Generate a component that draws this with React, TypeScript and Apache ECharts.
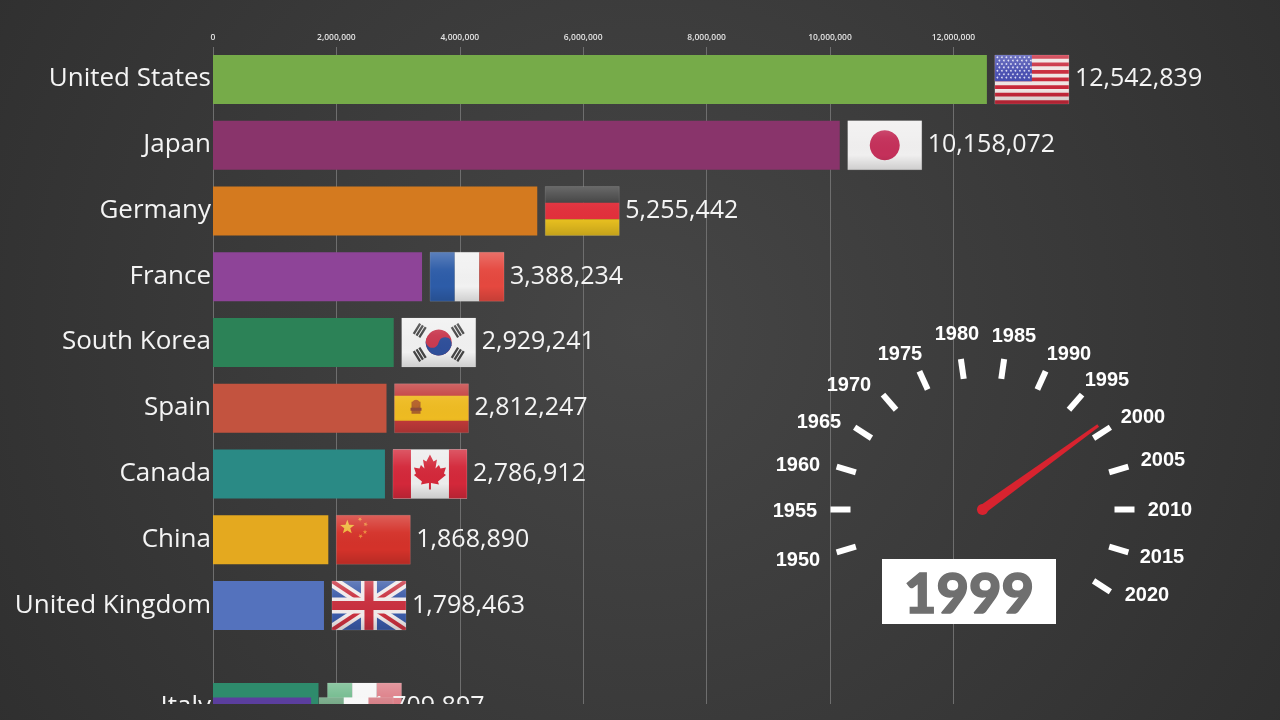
import React, { useEffect, useRef } from "react";
import * as echarts from "echarts";

const countries = ["United States", "Japan", "Germany", "France", "South Korea", "Spain", "Canada", "China", "United Kingdom", "Italy", "Mexico"];
const gdpValues = [12542839, 10158072, 5255442, 3388234, 2929241, 2812247, 2786912, 1868890, 1798463, 1709897, 1590000];
const rowRanks = [0, 1, 2, 3, 4, 5, 6, 7, 8, 9.55, 9.77];
const barColors = ["#76ab49", "#89346b", "#d47a1f", "#8e4498", "#2c8257", "#c3533f", "#2a8a85", "#e4a91f", "#5472bd", "#2e8b6c", "#5b3e9e"];
const gaugeYear = 1999;
const gaugeMinYear = 1950;
const gaugeMaxYear = 2020;

// Layout only: where each year's label sits around the dial, measured from the dial's centre.
const gaugeLabelOffsets: Record<number, number[]> = {
  1950: [-184.5, 49.5],
  1955: [-187.5, 0.5],
  1960: [-184.5, -45.5],
  1965: [-163.5, -88.5],
  1970: [-133.5, -125.5],
  1975: [-82.5, -156.5],
  1980: [-25.5, -176.5],
  1985: [31.5, -174.5],
  1990: [86.5, -156.5],
  1995: [124.5, -130.5],
  2000: [160.5, -93.5],
  2005: [180.5, -50.5],
  2010: [187.5, -0.5],
  2015: [179.5, 46.5],
  2020: [164.5, 84.5],
};

const TEXT_FONT = '"Open Sans", "Noto Sans", sans-serif';
const GAUGE_CX = 982.5;
const GAUGE_CY = 509.5;
const GAUGE_R = 152;
const GAUGE_START = 196.36;
const GAUGE_END = -32.73;
const LABEL_ANCHOR_R = 240;
const LABEL_W = 44.5;
const LABEL_H = 20;

function buildGaugeRich() {
  const rich: Record<string, any> = {};
  Object.keys(gaugeLabelOffsets).forEach((key) => {
    const year = Number(key);
    const [tx, ty] = gaugeLabelOffsets[year];
    const t = (year - gaugeMinYear) / (gaugeMaxYear - gaugeMinYear);
    const angle = ((GAUGE_START + (GAUGE_END - GAUGE_START) * t) * Math.PI) / 180;
    const ux = Math.cos(angle);
    const uy = -Math.sin(angle);
    const ax = ux * LABEL_ANCHOR_R;
    const ay = uy * LABEL_ANCHOR_R;
    let padL = 0;
    let padR = 0;
    let padT = 0;
    let padB = 0;
    if (ux < -0.4) padL = tx - LABEL_W / 2 - ax;
    else if (ux > 0.4) padR = ax - (tx + LABEL_W / 2);
    else if (tx > ax) padL = 2 * (tx - ax);
    else padR = 2 * (ax - tx);
    if (uy < -0.8) padT = 2 * (ty - LABEL_H / 2 - ay);
    else if (ty > ay) padT = 2 * (ty - ay);
    else padB = 2 * (ay - ty);
    rich[`y${year}`] = {
      padding: [padT, padR, padB, padL],
      lineHeight: LABEL_H,
      color: "#ffffff",
      fontSize: 20,
      fontWeight: "bold",
      fontFamily: '"Liberation Sans", Arial, sans-serif',
    };
  });
  return rich;
}

const bgStops = [
  { offset: 0, color: "#464646" },
  { offset: 1, color: "#2e2e2e" },
];
const bgFill = { type: "radial", x: 640, y: 330, r: 800, global: true, colorStops: bgStops };

function star(cx: number, cy: number, r: number, fill: string, rot = 0) {
  const points: number[][] = [];
  for (let i = 0; i < 10; i++) {
    const a = rot - Math.PI / 2 + (i * Math.PI) / 5;
    const q = i % 2 ? r * 0.42 : r;
    points.push([cx + q * Math.cos(a), cy + q * Math.sin(a)]);
  }
  return { type: "polygon", shape: { points }, style: { fill } };
}
const box = (x: number, y: number, w: number, h: number, fill: string) => ({ type: "rect", shape: { x, y, width: w, height: h }, style: { fill } });
const poly = (points: number[][], fill: string) => ({ type: "polygon", shape: { points }, style: { fill } });
const stroke = (a: number[], b: number[], w: number, color: string) => ({
  type: "line",
  shape: { x1: a[0], y1: a[1], x2: b[0], y2: b[1] },
  style: { stroke: color, lineWidth: w },
});

const FW = 74;
const FH = 49;

function usFlag() {
  const els: any[] = [box(0, 0, FW, FH, "#f0e6e4")];
  for (let i = 0; i < 7; i++) els.push(box(0, (i * 2 * FH) / 13, FW, FH / 13, "#c8283a"));
  els.push(box(0, 0, 37, (7 * FH) / 13, "#474db0"));
  for (let r = 0; r < 7; r++)
    for (let c = 0; c < 8; c++)
      els.push({ type: "circle", shape: { cx: 2.5 + c * 4.5 + (r % 2 ? 2 : 0), cy: 2.2 + r * 3.4, r: 0.9 }, style: { fill: "#d8d8f2" } });
  return els;
}
function koreaFlag() {
  const cx = FW / 2;
  const cy = FH / 2;
  const els: any[] = [box(0, 0, FW, FH, "#f0f0f0")];
  els.push({ type: "circle", shape: { cx, cy, r: 13 }, style: { fill: "#c93a50" } });
  els.push({ type: "sector", shape: { cx, cy, r: 13, startAngle: 0.2, endAngle: Math.PI + 0.2 }, style: { fill: "#2f4f9a" } });
  els.push({ type: "circle", shape: { cx: cx - 6.4, cy: cy - 1.2, r: 6.5 }, style: { fill: "#c93a50" } });
  els.push({ type: "circle", shape: { cx: cx + 6.4, cy: cy + 1.2, r: 6.5 }, style: { fill: "#2f4f9a" } });
  const corners = [
    [-19, -12],
    [19, -12],
    [-19, 12],
    [19, 12],
  ];
  corners.forEach(([dx, dy]) => {
    const len = Math.hypot(dx, dy);
    const nx = dx / len;
    const ny = dy / len;
    for (let k = -1; k <= 1; k++) {
      const ox = cx + dx + k * 3.3 * nx;
      const oy = cy + dy + k * 3.3 * ny;
      els.push(stroke([ox + ny * 6, oy - nx * 6], [ox - ny * 6, oy + nx * 6], 2.3, "#454545"));
    }
  });
  return els;
}
function spainFlag() {
  return [
    box(0, 0, FW, FH, "#c23a3a"),
    box(0, 12, FW, 25, "#eebb22"),
    box(17, 18, 9, 12, "#a8612a"),
    { type: "circle", shape: { cx: 21.5, cy: 20, r: 4 }, style: { fill: "#b5622a" } },
    box(16, 24, 11, 3, "#8f4a38"),
  ];
}
function canadaFlag() {
  const cx = FW / 2;
  const leaf = [
    [0, -19], [3.6, -12], [7, -14], [5.5, -5], [9, -8.5], [10.5, -5], [16, -6], [14, 0], [16, 1.5],
    [8, 8], [9, 11], [1, 9.6], [1, 16], [-1, 16], [-1, 9.6], [-9, 11], [-8, 8], [-16, 1.5], [-14, 0],
    [-16, -6], [-10.5, -5], [-9, -8.5], [-5.5, -5], [-7, -14], [-3.6, -12],
  ].map(([x, y]) => [cx + x, 24 + y]);
  return [box(0, 0, FW, FH, "#ececec"), box(0, 0, 18, FH, "#d3283a"), box(56, 0, 18, FH, "#d3283a"), poly(leaf, "#d3283a")];
}
function chinaFlag() {
  return [
    box(0, 0, FW, FH, "#d4322a"),
    star(11, 12, 7.5, "#eeb83a"),
    star(23.7, 4, 2.4, "#eb8a3a", 0.6),
    star(29.3, 9, 2.4, "#eb8a3a", 0.3),
    star(28.7, 16.7, 2.4, "#eb8a3a"),
    star(24.3, 21, 2.4, "#eb8a3a", 0.6),
  ];
}
function diagonal(d: number, e: number, fill: string) {
  return [
    poly([[0, 0], [d, 0], [FW, FH - e], [FW, FH], [FW - d, FH], [0, e]], fill),
    poly([[FW, 0], [FW - d, 0], [0, FH - e], [0, FH], [d, FH], [FW, e]], fill),
  ];
}
function ukFlag() {
  const white = "#f0eaea";
  const red = "#c9303f";
  const cx = FW / 2;
  const cy = FH / 2;
  return [
    box(0, 0, FW, FH, "#3a5aa8"),
    ...diagonal(10, 7, white),
    ...diagonal(3.5, 2.4, red),
    box(cx - 8, 0, 16, FH, white),
    box(0, cy - 8, FW, 16, white),
    box(cx - 4.5, 0, 9, FH, red),
    box(0, cy - 4.5, FW, 9, red),
  ];
}
const tricolour = (a: string, b: string, c: string) => [box(0, 0, FW / 3, FH, a), box(FW / 3, 0, FW / 3, FH, b), box((2 * FW) / 3, 0, FW / 3, FH, c)];

const flagBuilders: Record<string, () => any[]> = {
  "United States": usFlag,
  Japan: () => [box(0, 0, FW, FH, "#f0efef"), { type: "circle", shape: { cx: FW / 2, cy: FH / 2, r: 15 }, style: { fill: "#c4305a" } }],
  Germany: () => [box(0, 0, FW, FH / 3, "#3f3f3f"), box(0, FH / 3, FW, FH / 3, "#e2303c"), box(0, (2 * FH) / 3, FW, FH / 3, "#e5bd1f")],
  France: () => tricolour("#2d5ca8", "#f1f1f1", "#e5483f"),
  "South Korea": koreaFlag,
  Spain: spainFlag,
  Canada: canadaFlag,
  China: chinaFlag,
  "United Kingdom": ukFlag,
  Italy: () => tricolour("#6fb98b", "#f6f6f6", "#dc7c85"),
  Mexico: () => tricolour("#5f9a73", "#f6f6f6", "#cf6a73"),
};

function flagGroup(name: string, x: number, y: number) {
  const gloss = {
    type: "linear",
    x: 0,
    y: 0,
    x2: 0,
    y2: 1,
    colorStops: [
      { offset: 0, color: "rgba(255,255,255,0.22)" },
      { offset: 0.35, color: "rgba(255,255,255,0.03)" },
      { offset: 0.7, color: "rgba(0,0,0,0)" },
      { offset: 1, color: "rgba(0,0,0,0.14)" },
    ],
  };
  return {
    type: "group",
    x,
    y,
    children: [
      ...flagBuilders[name](),
      { type: "rect", shape: { x: 0, y: 0, width: FW, height: FH }, style: { fill: gloss, stroke: "rgba(255,255,255,0.12)", lineWidth: 1 } },
    ],
  };
}

function renderRow(params: any, api: any) {
  const i = params.dataIndex;
  const name = countries[i];
  const [xEnd, yc] = api.coord([api.value(0), api.value(1)]);
  const [x0] = api.coord([0, api.value(1)]);
  const rowH = api.size([0, 1])[1];
  const h = rowH * 0.745;
  const top = yc - h / 2;
  const children: any[] = [
    { type: "rect", shape: { x: x0, y: top, width: xEnd - x0, height: h }, style: { fill: barColors[i] } },
    flagGroup(name, xEnd + (name === "Italy" ? 9 : 8), top),
  ];
  if (name !== "Mexico") {
    const fill = "#f4f4f4";
    children.push({
      type: "text",
      x: x0 - 2,
      y: yc - 3,
      style: { font: `26px ${TEXT_FONT}`, fill, verticalAlign: "middle", text: name, align: "right" },
    });
    // Italy's label lags behind its bar in this frame of the race, tucked under the next row's flag.
    const labelX = name === "Italy" ? xEnd + 53 : xEnd + 88;
    children.push({
      type: "text",
      x: labelX,
      y: yc - 3,
      style: { font: `25px ${TEXT_FONT}`, fill, verticalAlign: "middle", text: api.value(0).toLocaleString("en-US"), align: "left" },
    });
  }
  return { type: "group", children };
}

export default function App() {
  const ref = useRef<HTMLDivElement>(null);
  useEffect(() => {
    const chart = echarts.init(ref.current as HTMLDivElement, undefined, { renderer: "svg" });
    chart.setOption({
      animation: false,
      backgroundColor: bgFill,
      grid: { left: 213, top: 47, width: 802.1, height: 657 },
      xAxis: {
        type: "value",
        position: "top",
        min: 0,
        max: 13000000,
        interval: 2000000,
        axisLine: { show: false },
        axisTick: { show: false },
        splitLine: { show: true, showMaxLine: false, lineStyle: { color: "#6e6e6e", width: 1 } },
        axisLabel: {
          margin: 6,
          color: "#e2e2e2",
          fontSize: 8.5,
          fontWeight: 600,
          fontFamily: TEXT_FONT,
          showMaxLabel: false,
          formatter: (v: number) => (v > 12000000 ? "" : v.toLocaleString("en-US")),
        },
      },
      yAxis: { type: "value", inverse: true, min: -0.494, max: 9.498, show: false },
      series: [
        {
          type: "custom",
          clip: false,
          renderItem: renderRow,
          encode: { x: 0, y: 1 },
          z: 3,
          data: gdpValues.map((v, i) => [v, rowRanks[i]]),
        },
        {
          type: "gauge",
          center: [GAUGE_CX, GAUGE_CY],
          radius: GAUGE_R,
          startAngle: GAUGE_START,
          endAngle: GAUGE_END,
          min: gaugeMinYear,
          max: gaugeMaxYear,
          splitNumber: 14,
          z: 4,
          axisLine: { show: false, lineStyle: { width: 0 } },
          axisTick: { show: false },
          progress: { show: false },
          splitLine: { distance: 0, length: 20, lineStyle: { color: "#ffffff", width: 6, cap: "butt" } },
          axisLabel: {
            distance: GAUGE_R - 20 - LABEL_ANCHOR_R,
            color: "#ffffff",
            fontSize: 20,
            fontWeight: "bold",
            fontFamily: '"Liberation Sans", Arial, sans-serif',
            formatter: (v: number) => {
              const y = Math.round(v);
              return `{y${y}|${y}}`;
            },
            rich: buildGaugeRich(),
          },
          pointer: {
            icon: "path://M3 0 L6 0 L9 100 L0 100 Z",
            length: 143,
            width: 9,
            offsetCenter: [0, 0],
            itemStyle: { color: "#d8232f" },
          },
          anchor: { show: true, size: 11, showAbove: true, itemStyle: { color: "#d8232f", borderWidth: 0 } },
          title: { show: false },
          detail: {
            show: true,
            offsetCenter: [-13.5, 82],
            width: 174,
            height: 65,
            lineHeight: 65,
            padding: 0,
            backgroundColor: "#ffffff",
            color: "#6f6f6f",
            fontFamily: 'Lato, "Open Sans", sans-serif',
            fontWeight: 900,
            fontSize: 56,
            textBorderColor: "#6f6f6f",
            textBorderWidth: 1.5,
            formatter: (v: number) => String(v),
          },
          data: [{ value: gaugeYear }],
        },
      ],
      graphic: {
        elements: [{ type: "rect", silent: true, z: 100, shape: { x: 0, y: 704, width: 1280, height: 16 }, style: { fill: bgFill } }],
      },
    });
    return () => chart.dispose();
  }, []);
  return <div ref={ref} style={{ position: "fixed", left: 0, top: 0, width: 1280, height: 720 }} />;
}
